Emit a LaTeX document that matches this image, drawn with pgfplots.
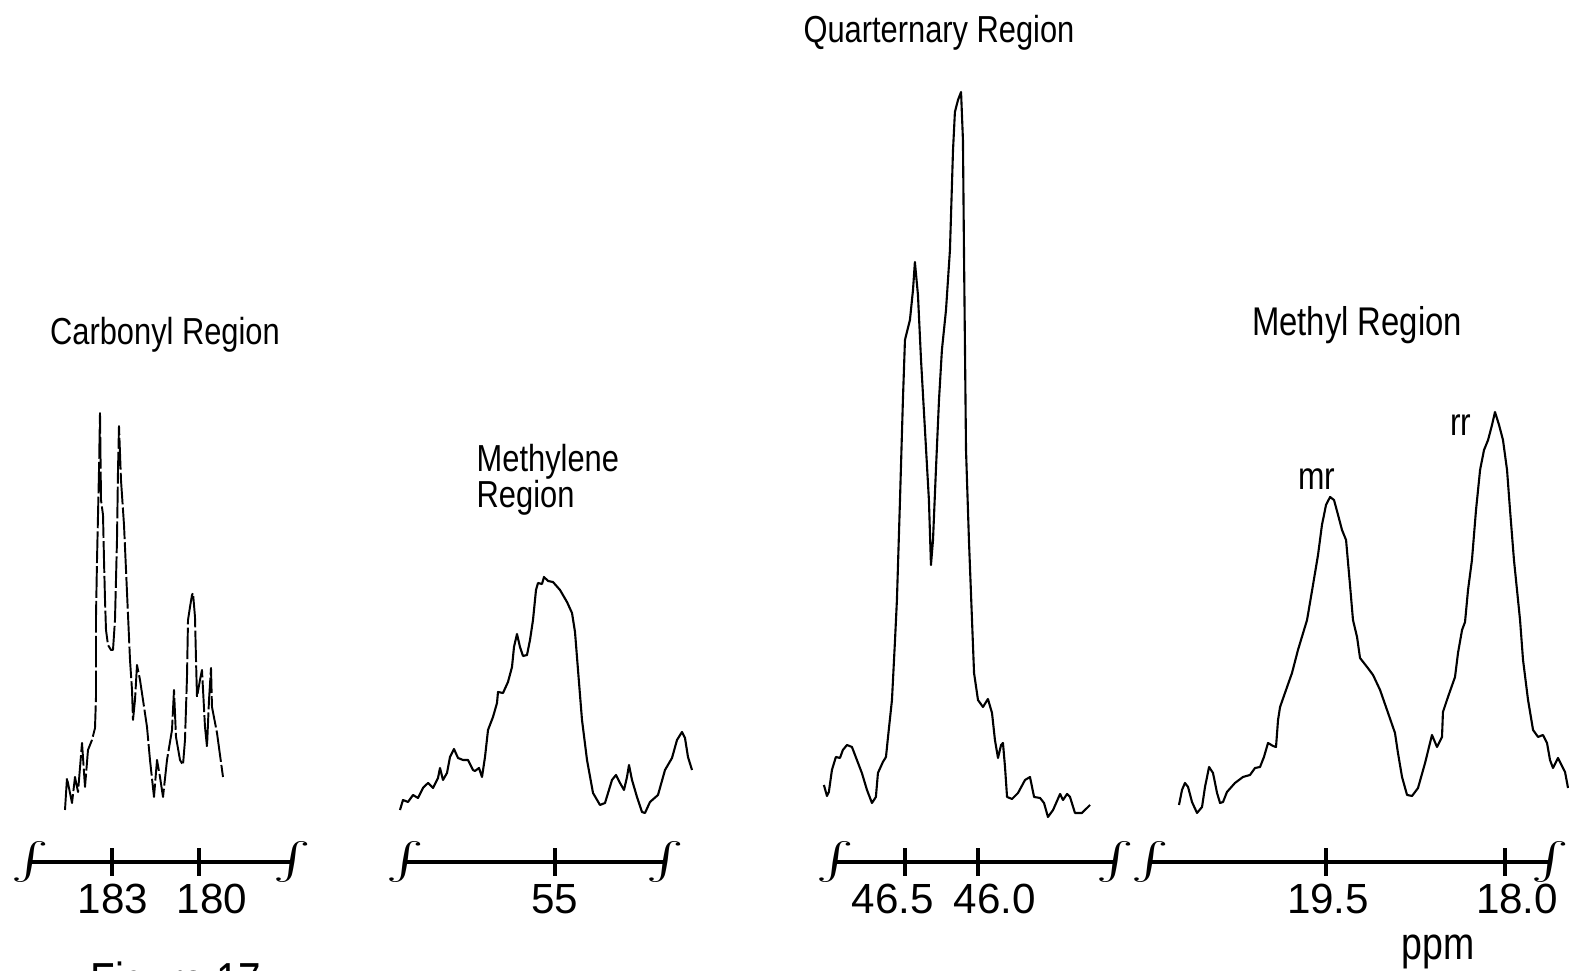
\documentclass[border=0pt]{standalone}
\usepackage{fontspec}
\setmainfont{Liberation Sans}
\newfontfamily\lett[FakeStretch=0.82]{Liberation Sans}
\usepackage{graphicx}
\usepackage{pgfplots}
\pgfplotsset{compat=1.18}
\pgfplotsset{
  spec/.style={scale only axis, height=9cm, ymin=0, ymax=900, x dir=reverse,
    axis y line=none, axis x line*=bottom, ytick=\empty,
    x axis line style={line width=1.2pt, black},
    tick align=center, major tick length=0.28cm,
    xtick style={line width=1.1pt, black},
    xticklabels={}, clip=false, anchor=south west, enlargelimits=false},
  curve/.style={black, line width=0.6pt, mark=none, line join=round},
}
\newcommand{\tl}{\fontsize{12}{14}\selectfont}
\newcommand{\ttl}{\lett\fontsize{10.7}{12}\selectfont}
\newcommand{\intsym}{\fontsize{11}{11}\selectfont\scalebox{1.6}[1.05]{$\int$}}
\begin{document}
\begin{tikzpicture}
\useasboundingbox (0,0) rectangle (15.69,9.71);

% ---------------- Carbonyl ----------------
\begin{axis}[spec, name=ax1, at={(0.30cm,1.09cm)}, width=2.62cm,
  xmin=176.793, xmax=185.828, xtick={183,180}]
\addplot[curve, line width=0.55pt, dash pattern=on 9pt off 0.9pt] coordinates {
(184.621,52)(184.552,84)(184.379,59)(184.276,85)(184.172,70)(184.034,119)(183.931,75)(183.828,112)(183.690,122)(183.586,134)(183.552,165)(183.552,245)(183.517,302)(183.448,392)(183.414,449)(183.379,362)(183.310,347)(183.276,302)(183.241,262)(183.207,232)(183.138,217)(183.034,212)(182.966,212)(182.897,242)(182.828,322)(182.793,392)(182.759,436)(182.690,382)(182.586,337)(182.517,292)(182.448,247)(182.379,202)(182.310,172)(182.276,142)(182.207,162)(182.138,197)(182.034,182)(181.931,162)(181.793,135)(181.690,102)(181.552,65)(181.448,102)(181.345,85)(181.241,65)(181.103,102)(180.931,132)(180.862,172)(180.793,125)(180.655,102)(180.552,97)(180.483,122)(180.414,185)(180.379,242)(180.310,255)(180.241,267)(180.207,269)(180.138,245)(180.103,202)(180.069,165)(179.966,182)(179.897,192)(179.793,135)(179.724,115)(179.655,162)(179.586,194)(179.552,155)(179.379,129)(179.276,107)(179.172,85)
};
\node[font=\tl] at (axis cs:182.966,0) [yshift=-0.37cm] {183};
\node[font=\tl] at (axis cs:179.552,0) [yshift=-0.37cm] {180};
\end{axis}

% ---------------- Methylene ----------------
\begin{axis}[spec, name=ax2, at={(4.05cm,1.09cm)}, width=2.60cm,
  xmin=51.333, xmax=60.0, xtick={55}]
\addplot[curve] coordinates {
(60.167,52)(60.067,62)(59.900,60)(59.733,67)(59.567,64)(59.400,74)(59.233,79)(59.067,74)(58.900,84)(58.833,94)(58.733,82)(58.600,89)(58.500,105)(58.367,113)(58.233,104)(58.067,102)(57.900,102)(57.733,92)(57.667,91)(57.533,94)(57.433,85)(57.333,105)(57.233,132)(57.067,145)(56.933,159)(56.900,170)(56.733,169)(56.567,180)(56.433,195)(56.367,215)(56.267,228)(56.167,215)(56.067,206)(55.933,207)(55.833,222)(55.733,242)(55.633,272)(55.567,279)(55.433,278)(55.367,285)(55.233,281)(55.067,280)(54.833,272)(54.600,260)(54.433,249)(54.333,230)(54.233,192)(54.100,142)(53.933,102)(53.733,69)(53.500,57)(53.333,59)(53.100,82)(52.967,87)(52.833,79)(52.700,72)(52.600,85)(52.533,97)(52.433,82)(52.267,65)(52.100,50)(52.000,49)(51.833,60)(51.567,67)(51.333,92)(51.100,104)(50.933,122)(50.767,130)(50.667,124)(50.567,105)(50.433,92)
};
\node[font=\tl] at (axis cs:55.0,0) [yshift=-0.37cm] {55};
\end{axis}

% ---------------- Quaternary ----------------
\begin{axis}[spec, name=ax3, at={(8.35cm,1.09cm)}, width=2.80cm,
  xmin=45.062, xmax=46.979, xtick={46.5,46.0}]
\addplot[curve] coordinates {
(47.055,77)(47.034,66)(47.021,70)(47.000,92)(46.973,105)(46.945,104)(46.925,112)(46.897,117)(46.863,115)(46.829,102)(46.795,89)(46.760,72)(46.726,59)(46.699,65)(46.685,89)(46.651,100)(46.630,105)(46.616,125)(46.589,162)(46.568,222)(46.555,262)(46.534,362)(46.514,462)(46.500,522)(46.466,542)(46.445,572)(46.432,600)(46.411,567)(46.390,502)(46.363,432)(46.336,362)(46.322,297)(46.308,322)(46.288,392)(46.267,462)(46.247,512)(46.219,552)(46.192,612)(46.171,712)(46.158,750)(46.137,762)(46.116,770)(46.103,722)(46.096,612)(46.089,512)(46.082,412)(46.062,322)(46.041,242)(46.027,189)(46.000,162)(45.966,155)(45.932,163)(45.904,149)(45.884,122)(45.863,104)(45.842,117)(45.829,119)(45.815,95)(45.801,65)(45.767,63)(45.726,69)(45.678,82)(45.644,85)(45.616,65)(45.575,64)(45.548,59)(45.521,45)(45.486,52)(45.438,68)(45.418,62)(45.390,68)(45.370,65)(45.336,49)(45.288,49)(45.233,57)
};
\node[font=\tl] at (axis cs:46.582,0) [yshift=-0.37cm] {46.5};
\node[font=\tl] at (axis cs:45.884,0) [yshift=-0.37cm] {46.0};
\end{axis}

% ---------------- Methyl ----------------
\begin{axis}[spec, name=ax4, at={(11.50cm,1.09cm)}, width=4.00cm,
  xmin=17.623, xmax=20.975, xtick={19.5,18.0}]
\addplot[curve] coordinates {
(20.732,57)(20.707,72)(20.682,79)(20.656,75)(20.623,60)(20.581,49)(20.539,55)(20.514,75)(20.480,95)(20.447,89)(20.413,69)(20.388,59)(20.363,60)(20.330,70)(20.263,79)(20.196,85)(20.137,87)(20.095,94)(20.053,95)(20.020,105)(19.986,119)(19.944,116)(19.919,115)(19.902,142)(19.885,155)(19.844,169)(19.785,189)(19.735,212)(19.659,242)(19.609,277)(19.567,307)(19.534,337)(19.500,357)(19.466,365)(19.433,362)(19.399,347)(19.366,332)(19.332,322)(19.299,277)(19.274,242)(19.240,225)(19.215,204)(19.156,195)(19.106,187)(19.047,172)(18.980,149)(18.922,129)(18.897,109)(18.863,85)(18.821,67)(18.779,66)(18.729,74)(18.670,99)(18.612,127)(18.570,115)(18.528,125)(18.520,150)(18.478,165)(18.419,185)(18.394,209)(18.360,232)(18.335,240)(18.310,272)(18.277,302)(18.243,352)(18.209,392)(18.176,412)(18.142,422)(18.109,437)(18.084,450)(18.050,437)(18.017,422)(17.983,392)(17.958,352)(17.925,302)(17.891,262)(17.874,242)(17.849,202)(17.807,162)(17.765,132)(17.723,125)(17.682,127)(17.648,119)(17.623,102)(17.598,94)(17.556,104)(17.497,90)(17.472,74)
};
\node[font=\tl] at (axis cs:19.483,0) [yshift=-0.37cm] {19.5};
\node[font=\tl] at (axis cs:17.899,0) [yshift=-0.37cm] {18.0};
\node[font=\lett\fontsize{11}{12}\selectfont, anchor=base] at (axis cs:19.575,372) {mr};
\node[font=\lett\fontsize{11}{12}\selectfont, anchor=base] at (axis cs:18.369,426) {rr};
\end{axis}

% break symbols at the ends of each scale
\foreach \a in {ax1,ax2,ax3,ax4}{
  \node[inner sep=0pt] at (\a.south west) {\intsym};
  \node[inner sep=0pt] at (\a.south east) {\intsym};
}

% titles
\node[font=\ttl, anchor=base] at (1.65,6.26) {Carbonyl Region};
\node[font=\ttl, anchor=base west, inner sep=0pt] at (4.76,4.99) {Methylene};
\node[font=\ttl, anchor=base west, inner sep=0pt] at (4.76,4.63) {Region};
\node[font=\ttl, anchor=base] at (9.39,9.28) {Quarternary Region};
\node[font=\lett\fontsize{11.4}{12}\selectfont, anchor=base] at (13.57,6.35) {Methyl Region};
\node[font=\lett\fontsize{13}{14}\selectfont] at (14.38,0.19) {ppm};
\node[font=\lett\fontsize{14}{16}\selectfont, anchor=base west, inner sep=0pt] at (0.90,-0.27) {Figure 17};
\end{tikzpicture}
\end{document}
